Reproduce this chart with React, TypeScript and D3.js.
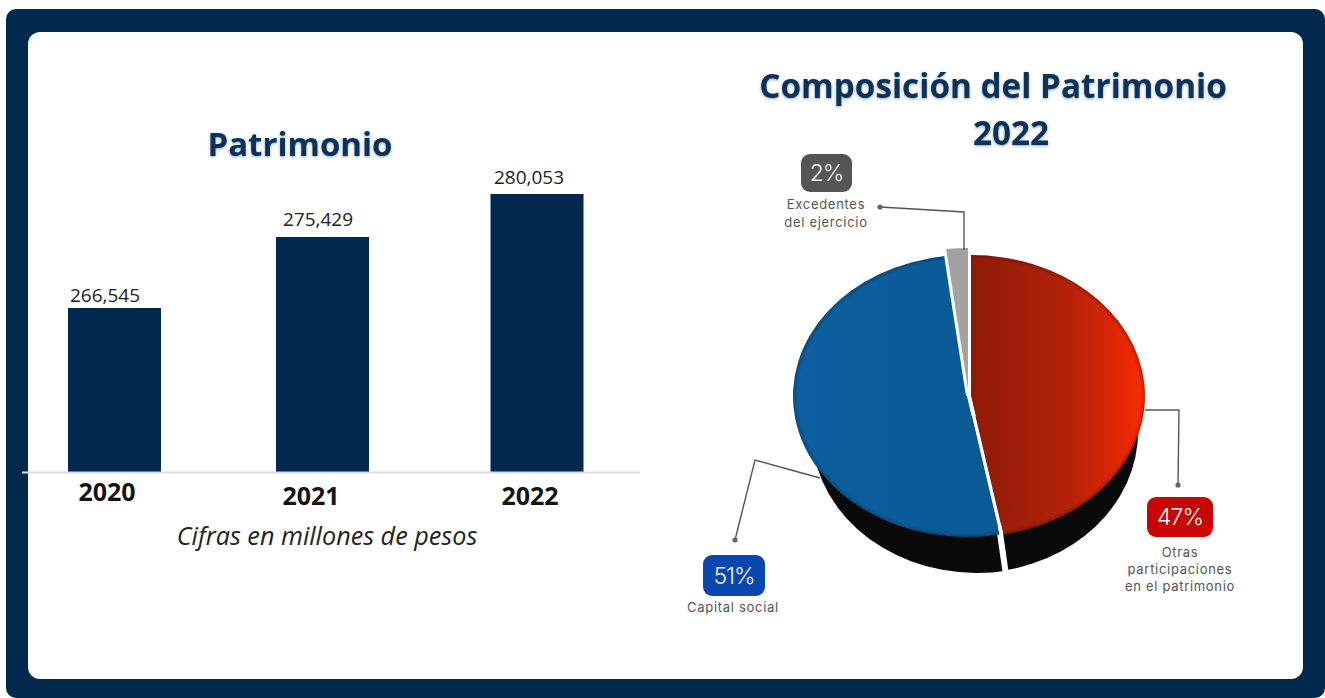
import React from "react";
import * as d3 from "d3";

const years = [2020, 2021, 2022];
const patrimonio = [266545, 275429, 280053];
const barValueLabels = ["266,545", "275,429", "280,053"];

const slices = ["Otras participaciones en el patrimonio", "Capital social", "Excedentes del ejercicio"];
const shares = [47, 51, 2];
const shareLabels = ["47%", "51%", "2%"];

const W = 1325, H = 698;
const baseY = 472;
const barW = 93;
// the reference's bars are drawn on a truncated, slightly uneven baseline
const x = d3.scaleLinear().domain(years).range([114.5, 322.5, 537]);
const y = d3.scaleLinear().domain([247100, ...patrimonio]).range([baseY, 308, 237, 194]);
const yearBaseline = [501, 505, 505];
const yearCx = [107, 311, 530];
const valueCx = [105, 318, 529];
const valueBaseline = [302, 226, 184];

const rx = 174, ry = 141, cx = 969, cy = 396, depth = 36;
const pieLayout = d3.pie<number>().sort(null).startAngle(0).endAngle(2 * Math.PI);
const arcs = pieLayout(shares);
const arcGen = d3.arc<d3.PieArcDatum<number>>().innerRadius(0);
const sliceStyle = [
  { dx: 2, dy: 0, sideDx: 4, fill: "url(#redFace)" },
  { dx: -2, dy: 0, sideDx: 8, fill: "url(#blueFace)" },
  { dx: -1, dy: -7, sideDx: 0, fill: "#a3a3a3" },
];

const sans = "'Open Sans', sans-serif";
const labelFont = "Inter, 'Noto Sans', sans-serif";

function Badge({ x0, y0, w, h, fill, text }: any) {
  return (
    <g>
      <rect x={x0} y={y0} width={w} height={h} rx={9} fill={fill} />
      <text x={x0 + w / 2} y={y0 + h / 2 + 8} textAnchor="middle" fontFamily={labelFont} fontWeight={300} fontSize={23} fill="#f2f2f2" letterSpacing={-1}>{text}</text>
    </g>
  );
}

function Leader({ pts }: { pts: [number, number][] }) {
  const line = d3.line();
  const end = pts[pts.length - 1];
  return (
    <g>
      <path d={line(pts) ?? ""} fill="none" stroke="#555" strokeWidth={1.4} />
      <circle cx={end[0]} cy={end[1]} r={2.6} fill="#666" />
    </g>
  );
}

export default function App() {
  const split = arcs[0].endAngle;
  const sx = Math.sin(split), sy = -Math.cos(split);
  const split2 = arcs[1].endAngle;
  const s2x = Math.sin(split2), s2y = -Math.cos(split2);
  return (
    <svg width={W} height={H} viewBox={`0 0 ${W} ${H}`} style={{ position: "absolute", left: 0, top: 0, display: "block" }}>
      <defs>
        <linearGradient id="redFace" gradientUnits="userSpaceOnUse" x1={0} y1={0} x2={rx} y2={0}>
          <stop offset="0" stopColor="#8f1a08" />
          <stop offset="0.55" stopColor="#b22208" />
          <stop offset="0.85" stopColor="#e02606" />
          <stop offset="1" stopColor="#fa2c06" />
        </linearGradient>
        <linearGradient id="blueFace" gradientUnits="userSpaceOnUse" x1={-rx} y1={0} x2={0} y2={0}>
          <stop offset="0" stopColor="#0d5f9f" />
          <stop offset="1" stopColor="#0a5a96" />
        </linearGradient>
        <radialGradient id="rim" gradientUnits="userSpaceOnUse" cx={0} cy={0} r={rx}>
          <stop offset="0.97" stopColor="#000" stopOpacity={0} />
          <stop offset="1" stopColor="#000" stopOpacity={0.22} />
        </radialGradient>
        <filter id="titleShadow" x="-10%" y="-30%" width="120%" height="160%">
          <feDropShadow dx={0} dy={1} stdDeviation={1.8} floodColor="#0a3a6a" floodOpacity={0.45} />
        </filter>
        <clipPath id="sideClip">
          <rect x={cx - rx - 20} y={cy + 20} width={2 * rx + 40} height={ry + depth + 20} />
        </clipPath>
      </defs>

      <rect x={6} y={9} width={W - 6} height={H - 9} rx={10} fill="#02284d" />
      <rect x={28} y={32} width={1275} height={647} rx={12} fill="#ffffff" />

      {/* Bars */}
      <text x={300} y={156} textAnchor="middle" fontFamily={sans} fontWeight={700} fontSize={33} fill="#0a3058" filter="url(#titleShadow)">Patrimonio</text>
      {years.map((yr, i) => (
        <g key={yr}>
          <rect x={x(yr) - barW / 2} y={y(patrimonio[i])} width={barW} height={baseY - y(patrimonio[i])} fill="#02284d" />
          <text x={valueCx[i]} y={valueBaseline[i]} textAnchor="middle" fontFamily={sans} fontSize={19} fill="#222">{barValueLabels[i]}</text>
          <text x={yearCx[i]} y={yearBaseline[i]} textAnchor="middle" fontFamily={sans} fontWeight={700} fontSize={25} fill="#141414">{yr}</text>
        </g>
      ))}
      <line x1={22} x2={640} y1={baseY + 0.5} y2={baseY + 0.5} stroke="#d9dee6" strokeWidth={2} />
      <text x={327} y={545} textAnchor="middle" fontFamily={sans} fontStyle="italic" fontSize={25.2} fill="#222">Cifras en millones de pesos</text>

      {/* Pie */}
      <text x={993} y={98} textAnchor="middle" fontFamily={sans} fontWeight={700} fontSize={33.3} fill="#0a3058" filter="url(#titleShadow)">Composición del Patrimonio</text>
      <text x={1011} y={145} textAnchor="middle" fontFamily={sans} fontWeight={700} fontSize={33.3} fill="#0a3058" filter="url(#titleShadow)">2022</text>

      <g clipPath="url(#sideClip)">
        {[1, 0].map((i) => {
          const a = arcs[i];
          const s = sliceStyle[i];
          const side = rx - 9;
          return (
            <path key={slices[i] + "-side"}
              d={arcGen({ ...a, outerRadius: side } as any) ?? ""}
              transform={`translate(${cx + s.sideDx},${cy + depth}) scale(1,${ry / side})`}
              fill="#0a0a0a" />
          );
        })}
      </g>
      <line x1={cx + 30} y1={cy + 130} x2={cx + 37} y2={cy + depth + ry + 2} stroke="#ffffff" strokeWidth={6} />
      {arcs.map((a, i) => {
        const s = sliceStyle[i];
        const d = arcGen({ ...a, outerRadius: rx } as any) ?? "";
        return (
          <g key={slices[i]} transform={`translate(${cx + s.dx},${cy + s.dy}) scale(1,${ry / rx})`}>
            <path d={d} fill={s.fill} />
            {i < 2 && <path d={d} fill="url(#rim)" />}
          </g>
        );
      })}
      <g transform={`translate(${cx},${cy}) scale(1,${ry / rx})`}>
        <line x1={0} y1={0} x2={sx * rx} y2={sy * rx} stroke="#ffffff" strokeWidth={3.5} />
        <line x1={-2} y1={0} x2={s2x * rx - 2} y2={s2y * rx} stroke="#ffffff" strokeWidth={2} />
      </g>

      {/* Leaders */}
      <Leader pts={[[964, 250], [964, 212], [880, 207]]} />
      <Leader pts={[[1145, 410], [1179, 410], [1178, 485]]} />
      <Leader pts={[[820, 478], [755, 460], [735, 540]]} />

      <Badge x0={801} y0={154} w={51} h={38} fill="#555555" text={shareLabels[2]} />
      <Badge x0={1147} y0={497} w={66} h={40} fill="#c90606" text={shareLabels[0]} />
      <Badge x0={703} y0={555} w={62} h={41} fill="#0a46b0" text={shareLabels[1]} />

      <g fontFamily={labelFont} fontSize={13} letterSpacing={0.7} fill="#555" textAnchor="middle">
        <text x={826} y={209}>Excedentes</text>
        <text x={826} y={227}>del ejercicio</text>
        <text x={1180} y={557}>Otras</text>
        <text x={1180} y={574}>participaciones</text>
        <text x={1180} y={591}>en el patrimonio</text>
        <text x={733} y={612}>Capital social</text>
      </g>
    </svg>
  );
}
